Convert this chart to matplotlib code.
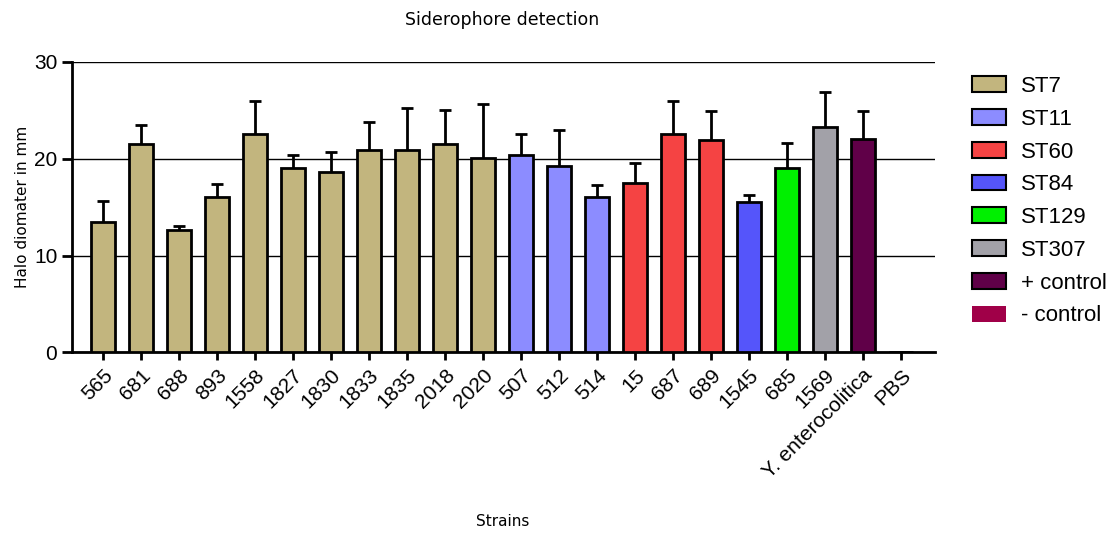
import numpy as np
import matplotlib
matplotlib.use("Agg")
import matplotlib.pyplot as plt
from matplotlib.patches import Patch

strains = ["565", "681", "688", "893", "1558", "1827", "1830", "1833", "1835",
           "2018", "2020", "507", "512", "514", "15", "687", "689", "1545",
           "685", "1569", "Y. enterocolitica", "PBS"]
groups = ["ST7"] * 11 + ["ST11"] * 3 + ["ST60"] * 3 + ["ST84", "ST129", "ST307",
                                                         "+ control", "- control"]
means = [13.5, 21.5, 12.6, 16.1, 22.6, 19.0, 18.6, 20.9, 20.9, 21.5, 20.1,
         20.4, 19.3, 16.0, 17.5, 22.6, 21.9, 15.5, 19.0, 23.3, 22.0, 0.0]
sds = [2.1, 2.0, 0.5, 1.3, 3.4, 1.4, 2.1, 2.9, 4.3, 3.5, 5.6,
       2.2, 3.7, 1.3, 2.1, 3.4, 3.0, 0.8, 2.6, 3.6, 2.9, 0.0]

legend_names = ["ST7", "ST11", "ST60", "ST84", "ST129", "ST307", "+ control", "- control"]
group_colors = {
    "ST7": "#c2b57e",
    "ST11": "#8c8cff",
    "ST60": "#f54343",
    "ST84": "#5555fa",
    "ST129": "#00f000",
    "ST307": "#a2a1a8",
    "+ control": "#600048",
    "- control": "#a00048",
}

plt.rcParams["font.family"] = ["Liberation Sans", "DejaVu Sans"]

fig = plt.figure(figsize=(11.19, 5.33), dpi=100)
ax = fig.add_axes([0.0643, 0.339, 0.7713, 0.5447])

x = np.arange(len(strains))
colors = [group_colors[g] for g in groups]
ax.set_axisbelow(True)
ax.yaxis.grid(True, color="black", linewidth=1.0)
ax.bar(x, means, width=0.63, color=colors, edgecolor="black", linewidth=2, zorder=3)

# upper error bars only
has_err = np.array(sds) > 0
tops = np.array(means) + np.array(sds)
ax.vlines(x[has_err], np.array(means)[has_err], tops[has_err], color="black", linewidth=2, zorder=2)
ax.hlines(tops[has_err], x[has_err] - 0.16, x[has_err] + 0.16, color="black", linewidth=2, zorder=2)

ax.set_xlim(-0.82, 21.9)
ax.set_ylim(0, 30)
ax.set_yticks([0, 10, 20, 30])
ax.set_xticks(x)
ax.set_xticklabels(strains, rotation=45, ha="right", rotation_mode="anchor", fontsize=15)
ax.tick_params(axis="y", labelsize=15, width=2, length=7, direction="out")
ax.tick_params(axis="x", width=2, length=6, direction="out")
for s in ["top", "right"]:
    ax.spines[s].set_visible(False)
for s in ["left", "bottom"]:
    ax.spines[s].set_linewidth(2)

ax.set_ylabel("Halo diomater in mm", labelpad=3, fontsize=11, family="DejaVu Sans")
fig.text(0.449, 0.022, "Strains", ha="center", va="center", fontsize=11, family="DejaVu Sans")
fig.text(0.449, 0.962, "Siderophore detection", ha="center", va="center", fontsize=12.5,
         family="DejaVu Sans")

handles = []
for name in legend_names:
    ec = "none" if name == "- control" else "black"
    handles.append(Patch(facecolor=group_colors[name], edgecolor=ec, linewidth=1.5))
fig.legend(handles, legend_names, loc="upper left", bbox_to_anchor=(0.851, 0.895),
           frameon=False, fontsize=16, handlelength=1.5, handleheight=0.72,
           labelspacing=0.53, handletextpad=0.7)

fig.savefig("out.png", dpi=100)
